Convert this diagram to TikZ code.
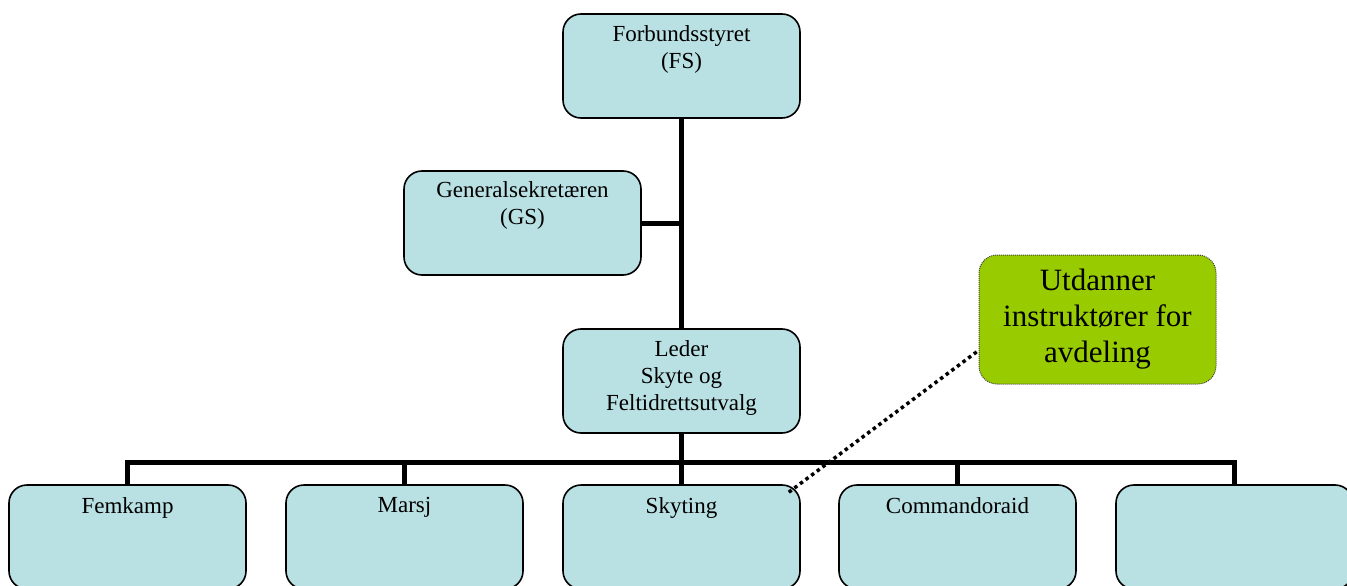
\documentclass[tikz,border=0pt]{standalone}
\usepackage{fontspec}
\setmainfont{Liberation Serif}
\definecolor{boxblue}{RGB}{185,224,227}
\definecolor{callgreen}{RGB}{153,204,0}
\begin{document}
\begin{tikzpicture}[x=1pt,y=-1pt,
  orgbox/.style={draw=black, line width=1.6pt, fill=boxblue, rounded corners=18pt,
    minimum width=237pt, minimum height=104pt, inner sep=0pt},
  lbl/.style={font=\fontsize{23}{27}\selectfont, align=center, anchor=north, inner sep=0pt},
  conn/.style={line width=5pt},
  callout/.style={draw=black!75, line width=1pt, dash pattern=on 1pt off 1pt, fill=callgreen,
    rounded corners=18pt, minimum width=237pt, minimum height=129pt, inner sep=0pt,
    align=center, font=\fontsize{31}{36}\selectfont},
  pointer/.style={line width=3.5pt, dash pattern=on 3.5pt off 3.5pt}]
\useasboundingbox (0,0) rectangle (1347,586);
\clip (0,0) rectangle (1347,586);
% boxes
\node[orgbox] (fs) at (681.5,66) {};
\node[orgbox] (gs) at (522.5,223) {};
\node[orgbox] (leder) at (681.5,381) {};
\node[orgbox] (b1) at (127.5,537) {};
\node[orgbox] (b2) at (404.5,537) {};
\node[orgbox] (b3) at (681.5,537) {};
\node[orgbox] (b4) at (957.5,537) {};
\node[orgbox] (b5) at (1234.5,537) {};
% labels
\node[lbl] (fst) at ([yshift=-12pt]fs.north) {Forbundsstyret\\(FS)};
\node[lbl] (gst) at ([yshift=-11pt]gs.north) {Generalsekretæren\\(GS)};
\node[lbl] (ledert) at ([yshift=-12pt]leder.north) {Leder\\Skyte og\\Feltidrettsutvalg};
\node[lbl] (b1t) at ([yshift=-13pt]b1.north) {Femkamp};
\node[lbl] (b2t) at ([yshift=-13pt]b2.north) {Marsj};
\node[lbl] (b3t) at ([yshift=-13pt]b3.north) {Skyting};
\node[lbl] (b4t) at ([yshift=-13pt]b4.north) {Commandoraid};
% connectors
\coordinate (bar) at (681.5,462);
\draw[conn] (fs.south) -- (leder.north);
\draw[conn] (gs.east) -- (gs.east -| fs.south);
\draw[conn] (leder.south) -- (bar);
\draw[conn] (b1.north) -- (b1.north |- bar) -- (b5.north |- bar) -- (b5.north);
\draw[conn] (b2.north) -- (b2.north |- bar);
\draw[conn] (b3.north) -- (b3.north |- bar);
\draw[conn] (b4.north) -- (b4.north |- bar);
% callout
\node[callout] (note) at (1097.5,319.5) {Utdanner\\instruktører for\\avdeling};
\coordinate (pstart) at ([xshift=-12pt,yshift=-8pt]b3.north east);
\draw[pointer] (pstart) -- ([yshift=-31pt]note.west);
\end{tikzpicture}
\end{document}
